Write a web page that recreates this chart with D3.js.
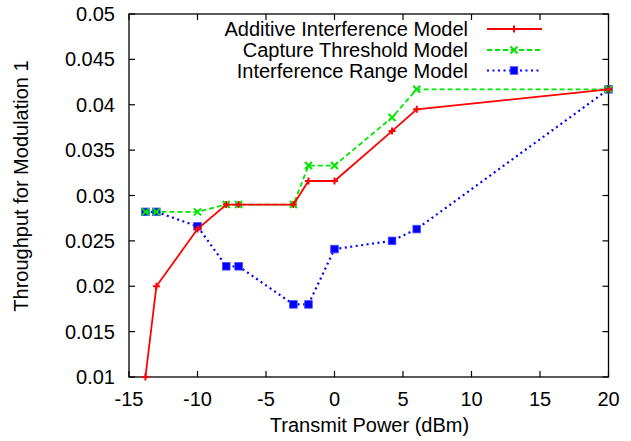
<!DOCTYPE html>
<html>
<head>
<meta charset="utf-8">
<script src="https://cdn.jsdelivr.net/npm/d3@7"></script>
<style>
  html, body { margin: 0; padding: 0; background: #fff; }
  svg text { font-family: "Liberation Sans", Arial, Helvetica, sans-serif; fill: #000; }
</style>
</head>
<body>
<svg id="chart" width="631" height="441"></svg>
<script>
// transmit power (dBm) for each measurement
const power = [-13.8, -13, -10, -7.9, -7, -3, -1.9, 0, 4.2, 6, 20];

const additive = [0.0100, 0.0200, 0.0263, 0.0290, 0.0290, 0.0290, 0.0316, 0.0316, 0.0371, 0.0395, 0.0417];
const capture  = [0.0282, 0.0282, 0.0282, 0.0290, 0.0290, 0.0290, 0.0333, 0.0333, 0.0386, 0.0417, 0.0417];
const range    = [0.0282, 0.0282, 0.0266, 0.0222, 0.0222, 0.0180, 0.0180, 0.0241, 0.0250, 0.0263, 0.0417];

const xTicks = [-15, -10, -5, 0, 5, 10, 15, 20];
const yTicks = [0.01, 0.015, 0.02, 0.025, 0.03, 0.035, 0.04, 0.045, 0.05];

const seriesNames = ['Additive Interference Model', 'Capture Threshold Model', 'Interference Range Model'];

const svg = d3.select('#chart');
const plotL = 129, plotR = 608.5, plotT = 14, plotB = 377;
const fontSize = 20;

const x = d3.scaleLinear().domain([-15, 20]).range([plotL, plotR]);
const y = d3.scaleLinear().domain([0.01, 0.05]).range([plotB, plotT]);

// frame
svg.append('rect')
  .attr('x', plotL).attr('y', plotT)
  .attr('width', plotR - plotL).attr('height', plotB - plotT)
  .attr('fill', 'none').attr('stroke', '#000').attr('stroke-width', 1.3);

// ticks (inward, mirrored like gnuplot)
const tickLen = 6;
const tickG = svg.append('g').attr('stroke', '#000').attr('stroke-width', 1.2);
xTicks.forEach(t => {
  tickG.append('line').attr('x1', x(t)).attr('x2', x(t)).attr('y1', plotB).attr('y2', plotB - tickLen);
  tickG.append('line').attr('x1', x(t)).attr('x2', x(t)).attr('y1', plotT).attr('y2', plotT + tickLen);
});
yTicks.forEach(t => {
  tickG.append('line').attr('x1', plotL).attr('x2', plotL + tickLen).attr('y1', y(t)).attr('y2', y(t));
  tickG.append('line').attr('x1', plotR).attr('x2', plotR - tickLen).attr('y1', y(t)).attr('y2', y(t));
});

// tick labels
svg.append('g').selectAll('text')
  .data(xTicks).enter().append('text')
  .attr('x', d => x(d)).attr('y', 406)
  .attr('text-anchor', 'middle')
  .style('font-size', fontSize + 'px')
  .text(d => d);

svg.append('g').selectAll('text')
  .data(yTicks).enter().append('text')
  .attr('x', 115).attr('y', d => y(d))
  .attr('dy', '0.35em')
  .attr('text-anchor', 'end')
  .style('font-size', fontSize + 'px')
  .text(d => String(+d.toFixed(3)));

// axis titles
svg.append('text')
  .attr('x', 369.5).attr('y', 432)
  .attr('text-anchor', 'middle')
  .style('font-size', fontSize + 'px')
  .text('Transmit Power (dBm)');

svg.append('text')
  .attr('transform', 'translate(27.5,186) rotate(-90)')
  .attr('text-anchor', 'middle')
  .style('font-size', fontSize + 'px')
  .text('Throughput for Modulation 1');

// marker helpers
function plusMark(g, cx, cy, color) {
  g.append('path').attr('d', `M${cx - 3.5},${cy}H${cx + 3.5}M${cx},${cy - 3.5}V${cy + 3.5}`)
    .attr('stroke', color).attr('stroke-width', 2).attr('fill', 'none');
}
function crossMark(g, cx, cy, color) {
  g.append('path').attr('d', `M${cx - 3.5},${cy - 3.5}L${cx + 3.5},${cy + 3.5}M${cx - 3.5},${cy + 3.5}L${cx + 3.5},${cy - 3.5}`)
    .attr('stroke', color).attr('stroke-width', 2).attr('fill', 'none');
}
function squareMark(g, cx, cy, color) {
  g.append('rect').attr('x', cx - 3.8).attr('y', cy - 3.8).attr('width', 7.6).attr('height', 7.6)
    .attr('fill', color).attr('stroke', '#4a4aff').attr('stroke-width', 0.8);
}

const series = [
  { name: seriesNames[0], values: additive, color: '#ff0000', dash: null, mark: plusMark },
  { name: seriesNames[1], values: capture, color: '#00e600', dash: '5,3', mark: crossMark },
  { name: seriesNames[2], values: range, color: '#0000ff', dash: '2,3.5', mark: squareMark }
];

const line = d3.line().x(d => x(d[0])).y(d => y(d[1]));

// blue underneath, red on top
[2, 1, 0].forEach(i => {
  const s = series[i];
  const pts = power.map((p, j) => [p, s.values[j]]);
  const g = svg.append('g');
  g.append('path').datum(pts)
    .attr('d', line)
    .attr('fill', 'none')
    .attr('stroke', s.color)
    .attr('stroke-width', i === 2 ? 2.2 : 1.8)
    .attr('stroke-dasharray', s.dash);
  pts.forEach(p => s.mark(g, x(p[0]), y(p[1]), s.color));
});

// legend
const legendY = [29, 50, 70.5];
series.forEach((s, i) => {
  const g = svg.append('g');
  g.append('text')
    .attr('x', 468).attr('y', legendY[i])
    .attr('dy', '0.35em')
    .attr('text-anchor', 'end')
    .style('font-size', fontSize + 'px')
    .text(s.name);
  g.append('line')
    .attr('x1', 487).attr('x2', 542)
    .attr('y1', legendY[i]).attr('y2', legendY[i])
    .attr('stroke', s.color)
    .attr('stroke-width', i === 2 ? 2.2 : 1.8)
    .attr('stroke-dasharray', s.dash);
  s.mark(g, 514, legendY[i], s.color);
});
</script>
</body>
</html>
